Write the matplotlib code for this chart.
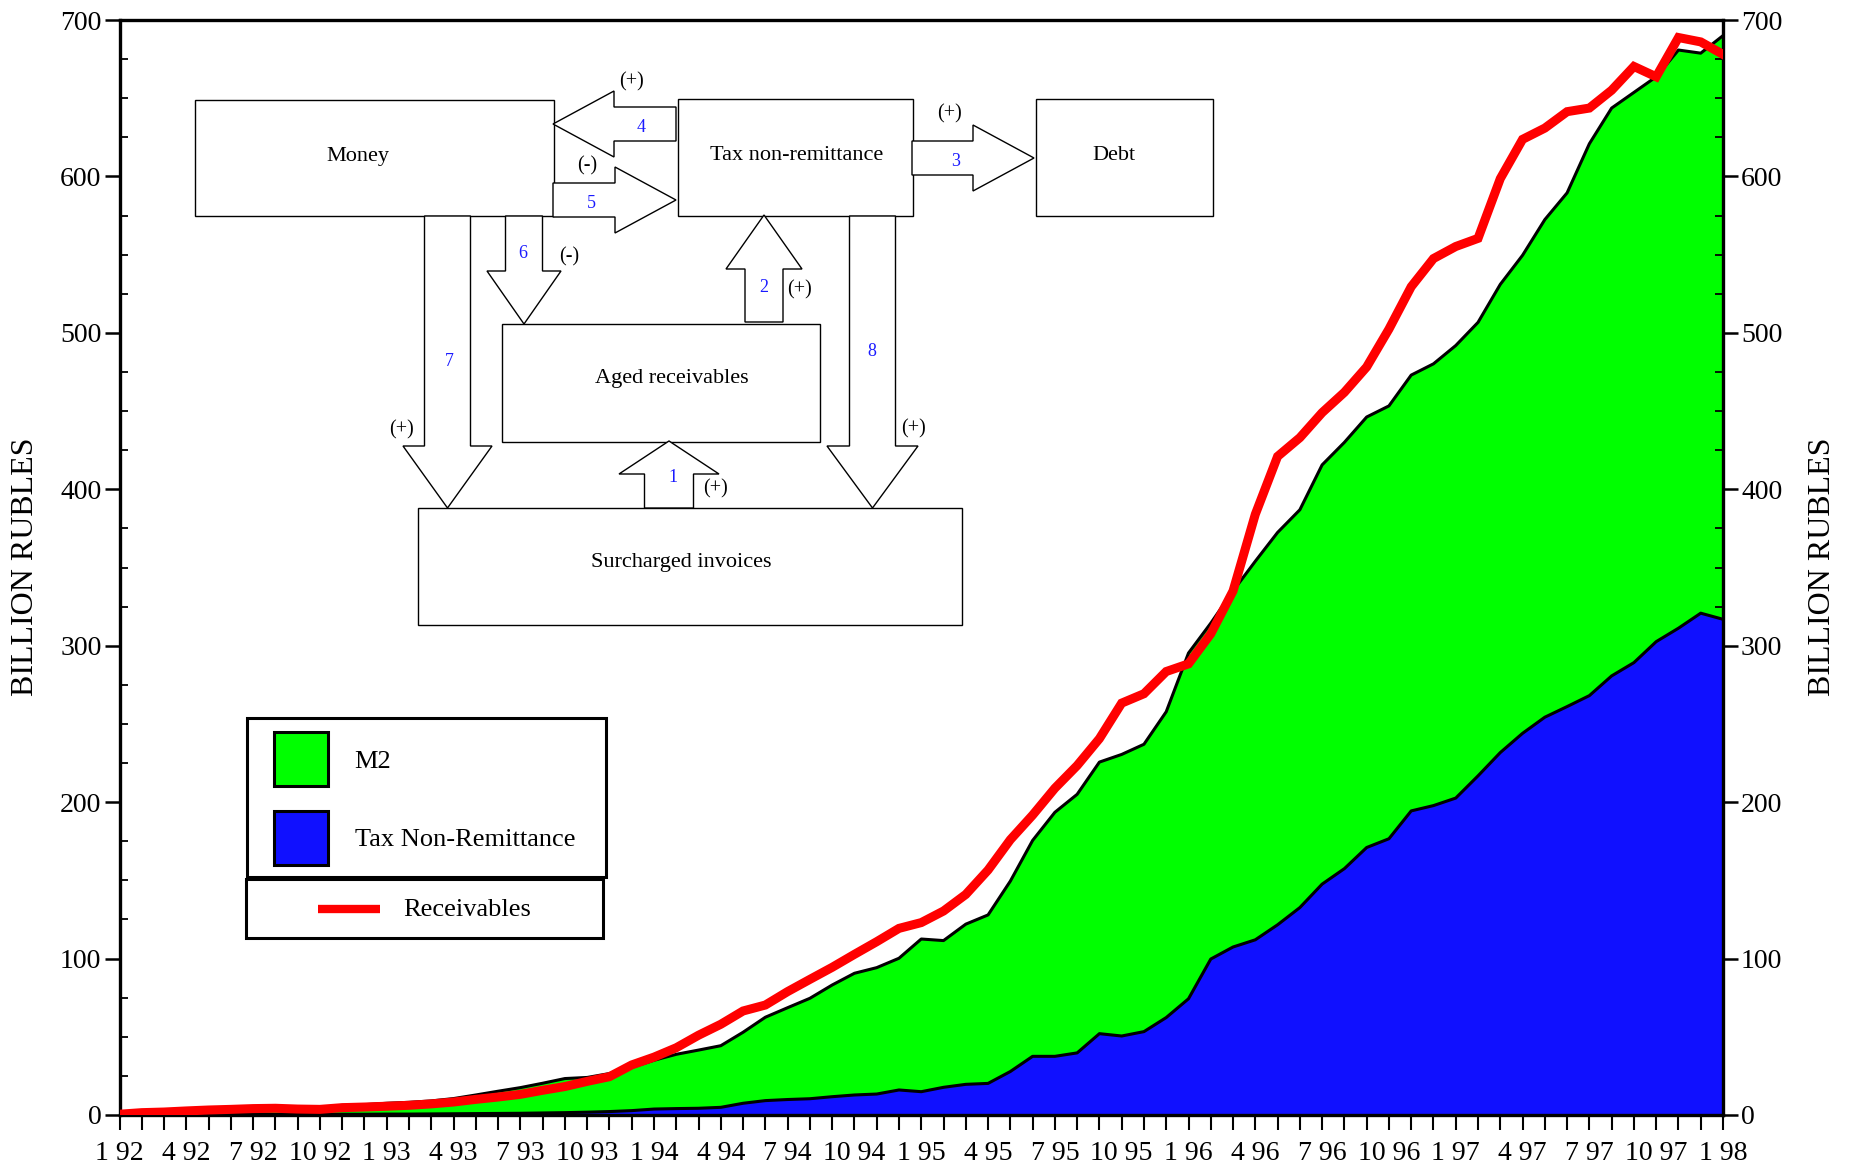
import numpy as np
import matplotlib
matplotlib.use("Agg")
import matplotlib.pyplot as plt
from matplotlib.patches import Polygon, Rectangle

plt.rcParams['font.family'] = ['Liberation Serif', 'DejaVu Serif']

# monthly data, Jan 1992 .. Jan 1998 (billion rubles)
months = np.arange(73)
tick_labels = ['1 92', '4 92', '7 92', '10 92', '1 93', '4 93', '7 93', '10 93',
               '1 94', '4 94', '7 94', '10 94', '1 95', '4 95', '7 95', '10 95',
               '1 96', '4 96', '7 96', '10 96', '1 97', '4 97', '7 97', '10 97', '1 98']

m2 = [0.3, 0.6, 0.9, 1.2, 1.6, 2.0, 2.4, 2.9, 3.6, 4.8, 6.2, 6.6, 7.5, 8.1, 9.0,
      10.5, 12.8, 15.2, 17.5, 20.3, 23.3, 24.0, 26.5, 30.5, 35.0, 38.8, 41.5, 44.3,
      52.9, 62.5, 68.6, 74.6, 83.1, 90.6, 94.2, 100.2, 112.5, 111.5, 122.0, 127.9,
      149.5, 175.5, 193.5, 205.0, 225.6, 230.5, 237.0, 257.8, 295.3, 314.4, 335.0,
      354.0, 372.4, 386.9, 415.6, 430.0, 446.2, 453.3, 473.0, 480.2, 491.9, 506.7,
      531.0, 549.6, 572.4, 589.5, 620.9, 643.7, 653.7, 663.7, 680.8, 678.8, 690.0]

tax_nonremit = [0.0, 0.1, 0.1, 0.2, 0.2, 0.3, 0.3, 0.3, 0.4, 0.4, 0.5, 0.5, 0.6, 0.6,
                0.7, 0.8, 0.9, 1.0, 1.1, 1.3, 1.5, 1.8, 2.2, 2.8, 3.8, 4.1, 4.3, 4.9,
                7.5, 9.2, 9.9, 10.4, 11.7, 12.8, 13.4, 16.0, 14.9, 17.7, 19.6, 20.2,
                27.8, 37.5, 37.5, 39.7, 52.0, 50.5, 53.3, 62.3, 74.3, 99.7, 107.4, 112.0,
                121.6, 132.6, 147.6, 157.5, 171.0, 176.6, 194.4, 197.8, 202.6, 216.8,
                231.7, 244.0, 254.3, 261.1, 268.1, 280.7, 289.2, 302.6, 311.2, 320.8, 316.9]

receivables = [0.5, 1.5, 1.9, 2.6, 3.2, 3.6, 4.1, 4.3, 3.8, 3.6, 4.7, 5.1, 5.6, 6.2,
               7.1, 8.3, 10.0, 11.5, 13.2, 15.8, 18.2, 21.5, 24.5, 32.0, 37.0, 43.0,
               51.0, 58.0, 66.5, 70.3, 78.9, 86.7, 94.4, 102.7, 110.8, 119.3, 123.0,
               130.4, 141.0, 156.6, 176.0, 191.7, 208.9, 223.4, 240.6, 263.3, 269.3,
               283.5, 288.4, 307.6, 335.0, 384.0, 421.0, 433.0, 449.0, 462.0, 478.2,
               502.4, 529.5, 547.5, 555.2, 560.4, 598.6, 623.7, 630.9, 641.4, 643.7,
               655.1, 670.3, 663.7, 688.8, 686.0, 678.0]

W, H = 1852, 1171
fig = plt.figure(figsize=(W / 100, H / 100), dpi=100)
ax = fig.add_axes([119.5 / W, 1 - 1115 / H, (1723 - 119.5) / W, (1115 - 20) / H])

ax.fill_between(months, 0, m2, color='#00ff00', lw=0, zorder=1)
ax.fill_between(months, 0, tax_nonremit, color='#1010ff', lw=0, zorder=2)
ax.plot(months, m2, color='black', lw=2.2, zorder=3)
ax.plot(months, tax_nonremit, color='black', lw=2.2, zorder=3)
ax.plot(months, receivables, color='#ff0000', lw=6.5, zorder=4, solid_joinstyle='miter')

ax.set_xlim(0, 72)
ax.set_ylim(0, 700)
ax.set_xticks(months)
ax.set_xticklabels([tick_labels[m // 3] if m % 3 == 0 else '' for m in months])
ax.set_yticks(np.arange(0, 701, 100))
ax.set_yticks(np.arange(0, 701, 25), minor=True)
ax.tick_params(axis='x', direction='out', length=11, width=1.5, labelsize=20, pad=8, top=False)
ax.tick_params(axis='y', which='major', direction='out', length=11, width=1.8,
               labelsize=20, pad=2, left=True, right=True, labelleft=True, labelright=True)
ax.tick_params(axis='y', which='minor', direction='in', length=6, width=1.3,
               left=True, right=True)
for s in ax.spines.values():
    s.set_linewidth(2.4)

fig.text(26 / W, 1 - 567 / H, 'BILLION RUBLES', rotation=90, fontsize=23,
         ha='center', va='center')
fig.text(1822 / W, 1 - 567 / H, 'BILLION RUBLES', rotation=90, fontsize=23,
         ha='center', va='center')

# overlay in pixel coordinates for the flow diagram and the legend
ov = fig.add_axes([0, 0, 1, 1], zorder=5)
ov.set_xlim(0, W)
ov.set_ylim(H, 0)
ov.axis('off')
ov.patch.set_alpha(0)


def box(x0, y0, x1, y1, label, tx, ty):
    ov.add_patch(Rectangle((x0, y0), x1 - x0, y1 - y0, facecolor='white',
                           edgecolor='black', lw=1.0))
    ov.text(tx, ty, label, fontsize=16, ha='center', va='center')


def block_arrow(tail, tip, shaft, head, head_len):
    t = np.array(tail, float)
    p = np.array(tip, float)
    d = (p - t) / np.linalg.norm(p - t)
    n = np.array([-d[1], d[0]])
    b = p - d * head_len
    pts = [t + n * shaft, b + n * shaft, b + n * head, p,
           b - n * head, b - n * shaft, t - n * shaft]
    ov.add_patch(Polygon(pts, closed=True, facecolor='white', edgecolor='black', lw=1.0))


box(195, 100, 554, 216, 'Money', 358, 156)
box(678, 99, 913, 216, 'Tax non-remittance', 797, 156)
box(1036, 99, 1213, 216, 'Debt', 1114, 156)
box(502, 324, 820, 442, 'Aged receivables', 672, 378)
box(418, 508, 962, 625, 'Surcharged invoices', 681, 562)

block_arrow((669, 508), (669, 441), 24.5, 50, 33)
block_arrow((764, 322), (764, 215), 19, 38, 54)
block_arrow((912, 158), (1034, 158), 17, 33, 61)
block_arrow((676, 124), (553, 124), 17, 33, 61)
block_arrow((553, 200), (676, 200), 17, 33, 61)
block_arrow((524, 216), (524, 324), 18.5, 37, 53)
block_arrow((447.5, 216), (447.5, 508), 23, 44.5, 62)
block_arrow((872.5, 216), (872.5, 508), 23, 45.5, 62)

num_labels = [('1', 673, 478), ('2', 764, 288), ('3', 956, 161), ('4', 641, 127),
              ('5', 591, 203), ('6', 523, 253), ('7', 449, 361), ('8', 872, 352)]
for s, x, y in num_labels:
    ov.text(x, y, s, color='#1a1aff', fontsize=13, ha='center', va='center')

sign_labels = [('(+)', 632, 82), ('(-)', 587, 166), ('(-)', 569, 257), ('(+)', 401, 430),
               ('(+)', 914, 429), ('(+)', 799, 290), ('(+)', 949, 114), ('(+)', 715, 489)]
for s, x, y in sign_labels:
    ov.text(x, y, s, fontsize=14.5, ha='center', va='center')

# legend
ov.add_patch(Rectangle((247, 718), 359, 159, facecolor='white', edgecolor='black', lw=2.2))
ov.add_patch(Rectangle((246, 879), 357, 59, facecolor='white', edgecolor='black', lw=2.2))
ov.add_patch(Rectangle((274, 732), 54, 54, facecolor='#00ff00', edgecolor='black', lw=2.2))
ov.add_patch(Rectangle((274, 811), 54, 54, facecolor='#1010ff', edgecolor='black', lw=2.2))
ov.plot([318, 380], [909, 909], color='#ff0000', lw=6, solid_capstyle='butt')
ov.text(354, 762, 'M2', fontsize=19, ha='left', va='center')
ov.text(355, 840, 'Tax Non-Remittance', fontsize=19, ha='left', va='center')
ov.text(403, 910, 'Receivables', fontsize=19, ha='left', va='center')

fig.savefig('out.png', dpi=100)
